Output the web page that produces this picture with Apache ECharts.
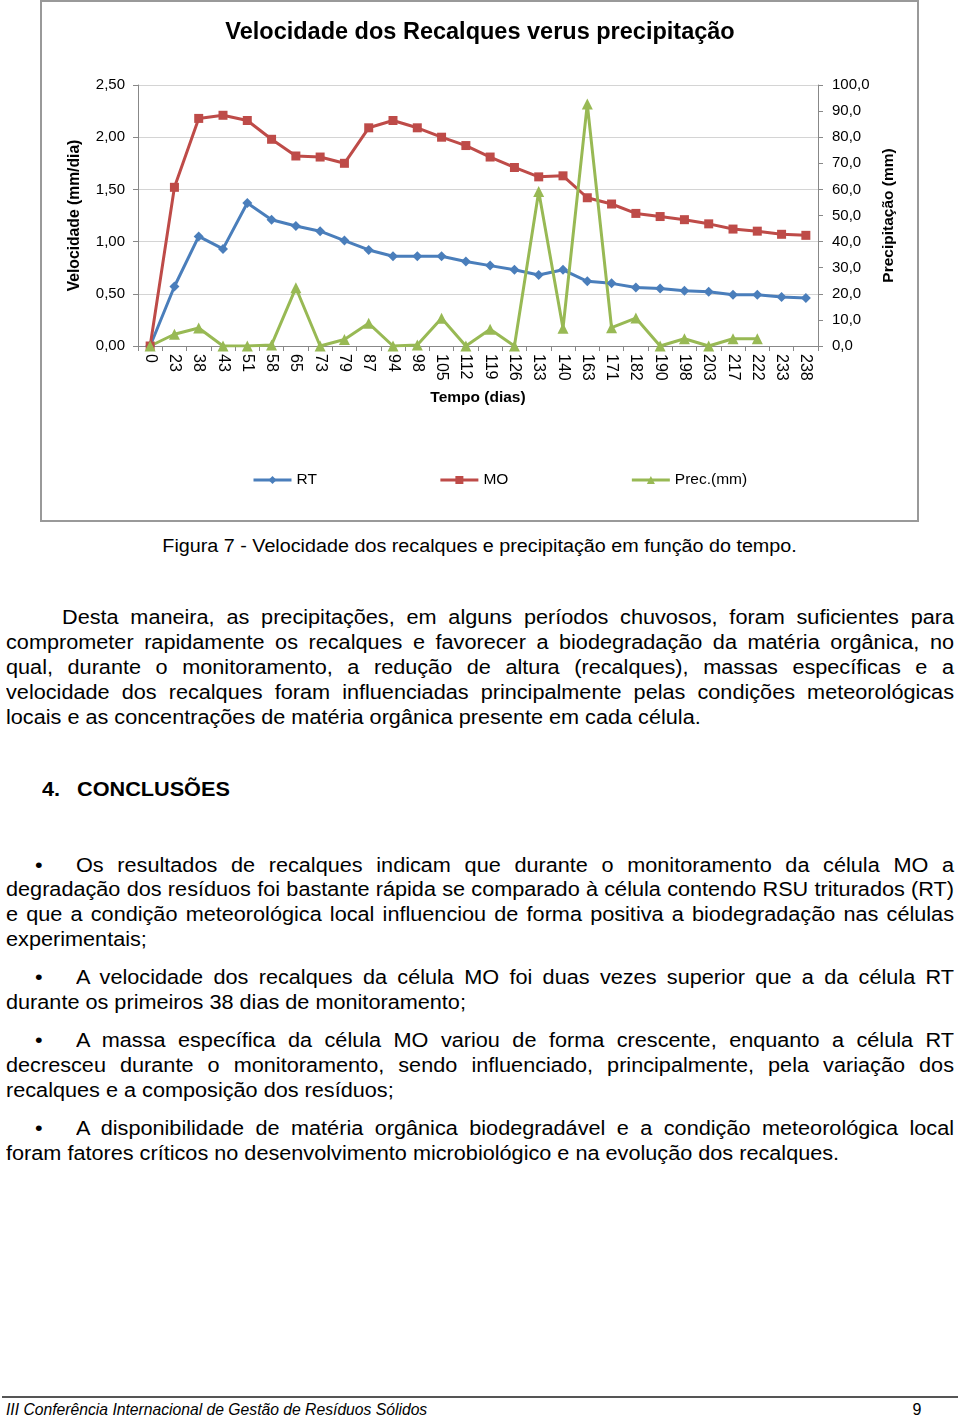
<!DOCTYPE html>
<html>
<head>
<meta charset="utf-8">
<script src="https://cdn.jsdelivr.net/npm/echarts@6/dist/echarts.min.js"></script>
<style>
  html, body { margin: 0; padding: 0; background: #fff; }
  body { width: 960px; height: 1417px; position: relative; overflow: hidden; font-family: "Liberation Sans", Arial, sans-serif; color: #000; }
  #frame { position: absolute; left: 40px; top: 0px; width: 879px; height: 522px; box-sizing: border-box; border: 2px solid #999; }
  #chart { position: absolute; left: 0; top: 0; width: 960px; height: 522px; }
  .ln { position: absolute; white-space: nowrap; font-size: 20px; line-height: 25px; height: 25px; transform-origin: 0 50%; }
  .j { text-align: justify; text-align-last: justify; white-space: normal; }
</style>
</head>
<body>
<div id="frame"></div>
<div id="chart"></div>
<div id="text"></div>
<script>
// ---- chart data ----
const days = ['0','23','38','43','51','58','65','73','79','87','94','98','105','112','119','126','133','140','163','171','182','190','198','203','217','222','233','238'];
const rt = [0, 0.57, 1.05, 0.93, 1.37, 1.21, 1.15, 1.10, 1.01, 0.92, 0.86, 0.86, 0.86, 0.81, 0.77, 0.73, 0.68, 0.73, 0.62, 0.60, 0.56, 0.55, 0.53, 0.52, 0.49, 0.49, 0.47, 0.46];
const mo = [0, 1.52, 2.18, 2.21, 2.16, 1.98, 1.82, 1.81, 1.75, 2.09, 2.16, 2.09, 2.00, 1.92, 1.81, 1.71, 1.62, 1.63, 1.42, 1.36, 1.27, 1.24, 1.21, 1.17, 1.12, 1.10, 1.07, 1.06];
const prec = [0, 4.5, 6.9, 0, 0, 0.4, 22.3, 0, 2.5, 8.7, 0, 0.4, 10.6, 0, 6.4, 0, 59.2, 6.8, 92.7, 7.0, 10.7, 0, 2.8, 0, 2.8, 2.8, null, null];
const leftTicks = { min: 0, max: 2.5, interval: 0.5 };
const rightTicks = { min: 0, max: 100, interval: 10 };

const FONT = '"Liberation Sans", Arial, sans-serif';
const chart = echarts.init(document.getElementById('chart'), null, { renderer: 'canvas' });
const comma = (v, d) => v.toFixed(d).replace('.', ',');
chart.setOption({
  animation: false,
  textStyle: { fontFamily: FONT, color: '#000' },
  title: {
    text: 'Velocidade dos Recalques verus precipitação',
    left: 'center', top: 16,
    textStyle: { fontFamily: FONT, fontSize: 23.5, fontWeight: 'bold', color: '#000' }
  },
  legend: {
    left: 247, top: 467,
    itemWidth: 38, itemHeight: 10, itemGap: 122,
    lineStyle: { width: 3 },
    textStyle: { fontFamily: FONT, fontSize: 15.5, color: '#000' },
    data: ['RT', 'MO', 'Prec.(mm)']
  },
  grid: { left: 138, right: 142, top: 85, bottom: 176, containLabel: false },
  xAxis: {
    type: 'category', data: days, boundaryGap: true,
    axisLine: { lineStyle: { color: '#888', width: 1 } },
    axisTick: { show: true, length: 5, lineStyle: { color: '#888' } },
    axisLabel: { rotate: -90, fontSize: 16, color: '#000', margin: 8, interval: 0, fontFamily: FONT },
    name: 'Tempo (dias)', nameLocation: 'middle', nameGap: 44,
    nameTextStyle: { fontFamily: FONT, fontSize: 15.5, fontWeight: 'bold', color: '#000' }
  },
  yAxis: [
    {
      type: 'value', min: leftTicks.min, max: leftTicks.max, interval: leftTicks.interval,
      axisLine: { show: true, lineStyle: { color: '#888' } },
      axisTick: { show: true, length: 5, lineStyle: { color: '#888' } },
      axisLabel: { formatter: v => comma(v, 2), fontSize: 15, color: '#000', margin: 13, fontFamily: FONT },
      splitLine: { show: true, lineStyle: { color: '#d4d4d4', width: 1 } },
      name: 'Velocidade (mm/dia)', nameLocation: 'middle', nameRotate: 90, nameGap: 55,
      nameTextStyle: { fontFamily: FONT, fontSize: 15.7, fontWeight: 'bold', color: '#000' }
    },
    {
      type: 'value', position: 'right', min: rightTicks.min, max: rightTicks.max, interval: rightTicks.interval,
      axisLine: { show: true, lineStyle: { color: '#888' } },
      axisTick: { show: true, length: 5, lineStyle: { color: '#888' } },
      axisLabel: { formatter: v => comma(v, 1), fontSize: 15, color: '#000', margin: 14, fontFamily: FONT },
      splitLine: { show: false },
      name: 'Precipitação (mm)', nameLocation: 'middle', nameRotate: 90, nameGap: 58,
      nameTextStyle: { fontFamily: FONT, fontSize: 15.5, fontWeight: 'bold', color: '#000' }
    }
  ],
  series: [
    { name: 'RT', type: 'line', data: rt, yAxisIndex: 0, symbol: 'diamond', symbolSize: 10,
      itemStyle: { color: '#4A7EBB' }, lineStyle: { color: '#4A7EBB', width: 3 } },
    { name: 'MO', type: 'line', data: mo, yAxisIndex: 0, symbol: 'rect', symbolSize: 9,
      itemStyle: { color: '#BE4B48' }, lineStyle: { color: '#BE4B48', width: 3 } },
    { name: 'Prec.(mm)', type: 'line', data: prec, yAxisIndex: 1, symbol: 'triangle', symbolSize: 11,
      itemStyle: { color: '#98B954' }, lineStyle: { color: '#98B954', width: 3 } }
  ]
});

// ---- page text ----
const S = 1.083; // horizontal stretch of the scanned page font
const lines = [
  // [text, centerY, left, width, mode, extraStyle, stretch]
  ['Figura 7 - Velocidade dos recalques e precipitação em função do tempo.', 546, 0, 960, 'c', 'font-size:18px;', 1.097],
  ['Desta maneira, as precipitações, em alguns períodos chuvosos, foram suficientes para', 617, 62, 892, 'j'],
  ['comprometer rapidamente os recalques e favorecer a biodegradação da matéria orgânica, no', 642, 6, 948, 'j'],
  ['qual, durante o monitoramento, a redução de altura (recalques), massas específicas e a', 667, 6, 948, 'j'],
  ['velocidade dos recalques foram influenciadas principalmente pelas condições meteorológicas', 692, 6, 948, 'j'],
  ['locais e as concentrações de matéria orgânica presente em cada célula.', 717, 6, 948, 'l'],
  ['4.', 789, 42, 40, 'l', 'font-weight:bold;'],
  ['CONCLUSÕES', 789, 77, 400, 'l', 'font-weight:bold;'],
  ['•', 865, 35, 20, 'l'],
  ['Os resultados de recalques indicam que durante o monitoramento da célula MO a', 865, 76, 878, 'j'],
  ['degradação dos resíduos foi bastante rápida se comparado à célula contendo RSU triturados (RT)', 889, 6, 948, 'j'],
  ['e que a condição meteorológica local influenciou de forma positiva a biodegradação nas células', 914, 6, 948, 'j'],
  ['experimentais;', 939, 6, 948, 'l'],
  ['•', 977, 35, 20, 'l'],
  ['A velocidade dos recalques da célula MO foi duas vezes superior que a da célula RT', 977, 76, 878, 'j'],
  ['durante os primeiros 38 dias de monitoramento;', 1002, 6, 948, 'l'],
  ['•', 1040, 35, 20, 'l'],
  ['A massa específica da célula MO variou de forma crescente, enquanto a célula RT', 1040, 76, 878, 'j'],
  ['decresceu durante o monitoramento, sendo influenciado, principalmente, pela variação dos', 1065, 6, 948, 'j'],
  ['recalques e a composição dos resíduos;', 1090, 6, 948, 'l'],
  ['•', 1128, 35, 20, 'l'],
  ['A disponibilidade de matéria orgânica biodegradável e a condição meteorológica local', 1128, 76, 878, 'j'],
  ['foram fatores críticos no desenvolvimento microbiológico e na evolução dos recalques.', 1153, 6, 948, 'l'],
  ['III Conferência Internacional de Gestão de Resíduos Sólidos', 1409, 6, 600, 'l', 'font-size:15.7px;font-style:italic;', 1],
  ['9', 1409, 902, 30, 'c', 'font-size:16px;', 1]
];
const host = document.getElementById('text');
for (const [t, cy, left, width, mode, extra, st] of lines) {
  const s = st || S;
  const d = document.createElement('div');
  d.className = 'ln' + (mode === 'j' ? ' j' : '');
  let css = `top:${cy - 12.5}px;left:${left}px;width:${width / s}px;transform:scaleX(${s});`;
  if (mode === 'c') css += 'text-align:center;transform-origin:50% 50%;left:' + (left + (width - width / s) / 2) + 'px;';
  d.style.cssText += css + (extra || '');
  d.textContent = t;
  host.appendChild(d);
}
const rule = document.createElement('div');
rule.style.cssText = 'position:absolute;left:2px;top:1396px;width:956px;height:0;border-top:2px solid #555;';
host.appendChild(rule);
</script>
</body>
</html>
